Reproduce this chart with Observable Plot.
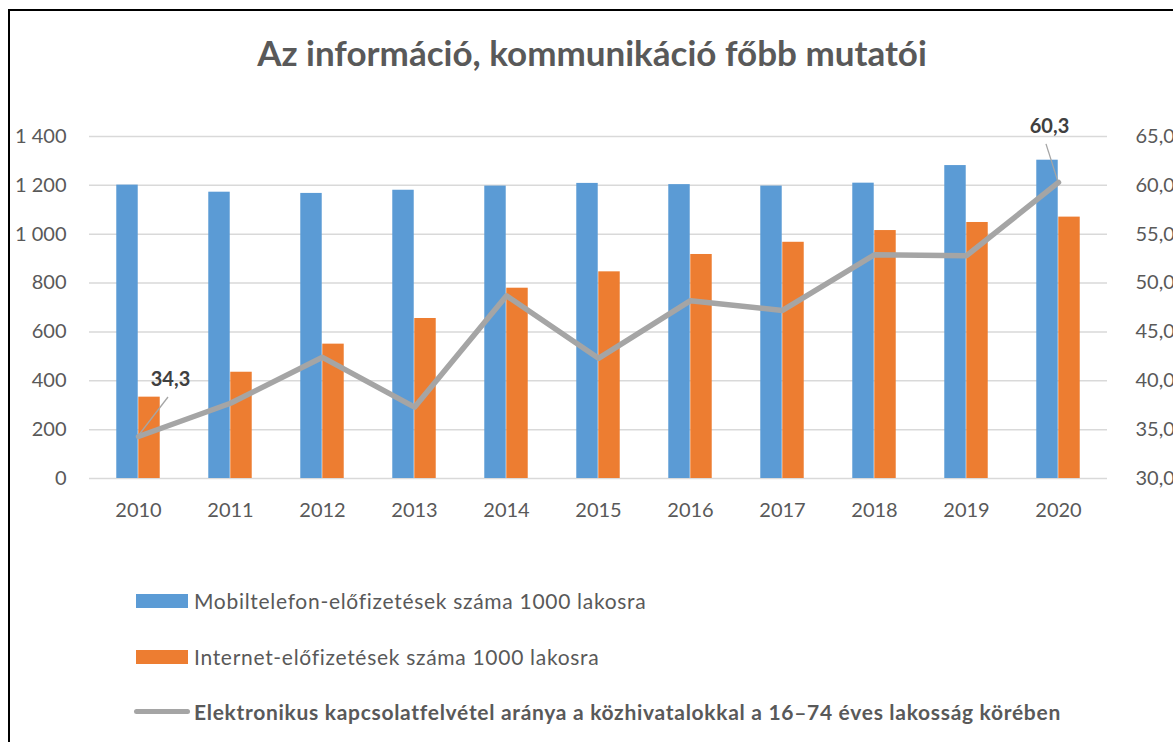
<!DOCTYPE html>
<html>
<head>
<meta charset="utf-8">
<script src="https://cdn.jsdelivr.net/npm/d3@7"></script>
<script src="https://cdn.jsdelivr.net/npm/@observablehq/plot@0.6"></script>
<style>
  html, body { margin: 0; padding: 0; background: #fff; }
  body { width: 1173px; height: 742px; overflow: hidden; position: relative; font-family: Lato, "Open Sans", sans-serif; }
  #frame { position: absolute; left: 8px; top: 9px; width: 2000px; height: 2000px; border: 2px solid #000; box-sizing: border-box; }
  #title { position: absolute; left: 0; top: 31px; width: 1184px; text-align: center; font-weight: bold; font-size: 35px; color: #595959; }
  #chart { position: absolute; left: 0; top: 90px; }
  .leg { position: absolute; left: 136px; display: flex; align-items: center; font-size: 21px; letter-spacing: 0.7px; color: #595959; white-space: nowrap; }
  .sw { width: 52px; height: 14px; margin-right: 6px; }
  .ln { width: 56px; height: 5px; border-radius: 3px; background: #A5A5A5; margin-right: 4px; margin-left: -2px; }
</style>
</head>
<body>
<div id="frame"></div>
<div id="title">Az információ, kommunikáció főbb mutatói</div>
<div id="chart"></div>
<div id="legend"></div>
<script>
// ---- data ----
const years = ["2010","2011","2012","2013","2014","2015","2016","2017","2018","2019","2020"];
const mobil = [1201, 1172, 1167, 1180, 1197, 1208, 1203, 1197, 1209, 1281, 1303];
const internet = [333, 435, 550, 655, 779, 846, 917, 967, 1015, 1048, 1070];
const ekapcs = [34.3, 37.7, 42.4, 37.3, 48.7, 42.3, 48.2, 47.2, 52.9, 52.8, 60.3];
const leftTicks = [0, 200, 400, 600, 800, 1000, 1200, 1400];
const rightTicks = [30, 35, 40, 45, 50, 55, 60, 65];
const seriesNames = [
  "Mobiltelefon-előfizetések száma 1000 lakosra",
  "Internet-előfizetések száma 1000 lakosra",
  "Elektronikus kapcsolatfelvétel aránya a közhivatalokkal a 16–74 éves lakosság körében"
];
const colors = ["#5B9BD5", "#ED7D31", "#A5A5A5"];
const labeledYears = ["2010", "2020"];

// right axis (30..65) mapped onto left axis (0..1400)
const rMin = 30, rMax = 65, lMax = 1400;
const toLeft = v => (v - rMin) * lMax / (rMax - rMin);

const table = years.map((y, i) => ({year: y, mobil: mobil[i], internet: internet[i], e: ekapcs[i], ey: toLeft(ekapcs[i])}));

const loc = d3.formatLocale({decimal: ",", thousands: "\u00a0", grouping: [3], currency: ["", ""]});
const fmtL = loc.format(",d");
const fmt1 = loc.format(".1f");

const W = 1173, H = 450;
const mL = 89, mR = 66, mT = 46, mB = 62;
const bw = (W - mL - mR) / years.length;
const barW = 22;

const leaderOffsets = {"2010": [30, -39], "2020": [-12, -38]};
const labelOffsets = {"2010": [32, -57], "2020": [-9, -56]};

const leaders = (index, scales) => {
  const g = d3.create("svg:g");
  for (const d of table.filter(d => labeledYears.includes(d.year))) {
    const x = scales.x(d.year) + scales.x.bandwidth() / 2;
    const y = scales.y(d.ey);
    const [ox, oy] = leaderOffsets[d.year];
    g.append("line").attr("x1", x).attr("y1", y).attr("x2", x + ox).attr("y2", y + oy)
      .attr("stroke", "#A5A5A5").attr("stroke-width", 1.3);
  }
  return g.node();
};

const labelMarks = labeledYears.map(yr => Plot.text(table.filter(d => d.year === yr), {
  x: "year", y: "ey", text: d => fmt1(d.e),
  dx: labelOffsets[yr][0], dy: labelOffsets[yr][1],
  fontWeight: "bold", fill: "#404040", fontSize: 20
}));

const chart = Plot.plot({
  width: W, height: H,
  marginLeft: mL, marginRight: mR, marginTop: mT, marginBottom: mB,
  style: {fontFamily: "Lato, 'Open Sans', sans-serif", fontSize: "20px", color: "#595959", background: "transparent"},
  x: {type: "band", domain: years, paddingInner: 0, paddingOuter: 0},
  y: {domain: [0, lMax]},
  marks: [
    Plot.gridY(leftTicks, {stroke: "#D9D9D9", strokeOpacity: 1, strokeWidth: 1.5}),
    Plot.barY(table, {x: "year", y: "mobil", fill: colors[0], insetLeft: bw / 2 - barW, insetRight: bw / 2}),
    Plot.barY(table, {x: "year", y: "internet", fill: colors[1], insetLeft: bw / 2, insetRight: bw / 2 - barW}),
    Plot.line(table, {x: "year", y: "ey", stroke: colors[2], strokeWidth: 5.5, strokeLinejoin: "round", strokeLinecap: "round"}),
    leaders,
    ...labelMarks,
    Plot.axisY(leftTicks, {anchor: "left", tickSize: 0, tickPadding: 23, tickFormat: fmtL, label: null, fill: "#595959"}),
    Plot.axisY(rightTicks.map(toLeft), {anchor: "right", tickSize: 0, tickPadding: 28, tickFormat: d => fmt1(d * (rMax - rMin) / lMax + rMin), label: null, fill: "#595959"}),
    Plot.axisX({tickSize: 0, tickPadding: 24, label: null, fill: "#595959"})
  ]
});
document.getElementById("chart").appendChild(chart);

// legend
const legend = document.getElementById("legend");
const tops = [590, 646, 704];
seriesNames.forEach((name, i) => {
  const row = document.createElement("div");
  row.className = "leg";
  row.style.top = (tops[i] - (i === 2 ? 5 : 2)) + "px";
  const sw = document.createElement("div");
  if (i < 2) { sw.className = "sw"; sw.style.background = colors[i]; }
  else { sw.className = "ln"; }
  const tx = document.createElement("span");
  tx.textContent = name;
  if (i === 2) { tx.style.fontWeight = "bold"; }
  row.appendChild(sw);
  row.appendChild(tx);
  legend.appendChild(row);
});
</script>
</body>
</html>
